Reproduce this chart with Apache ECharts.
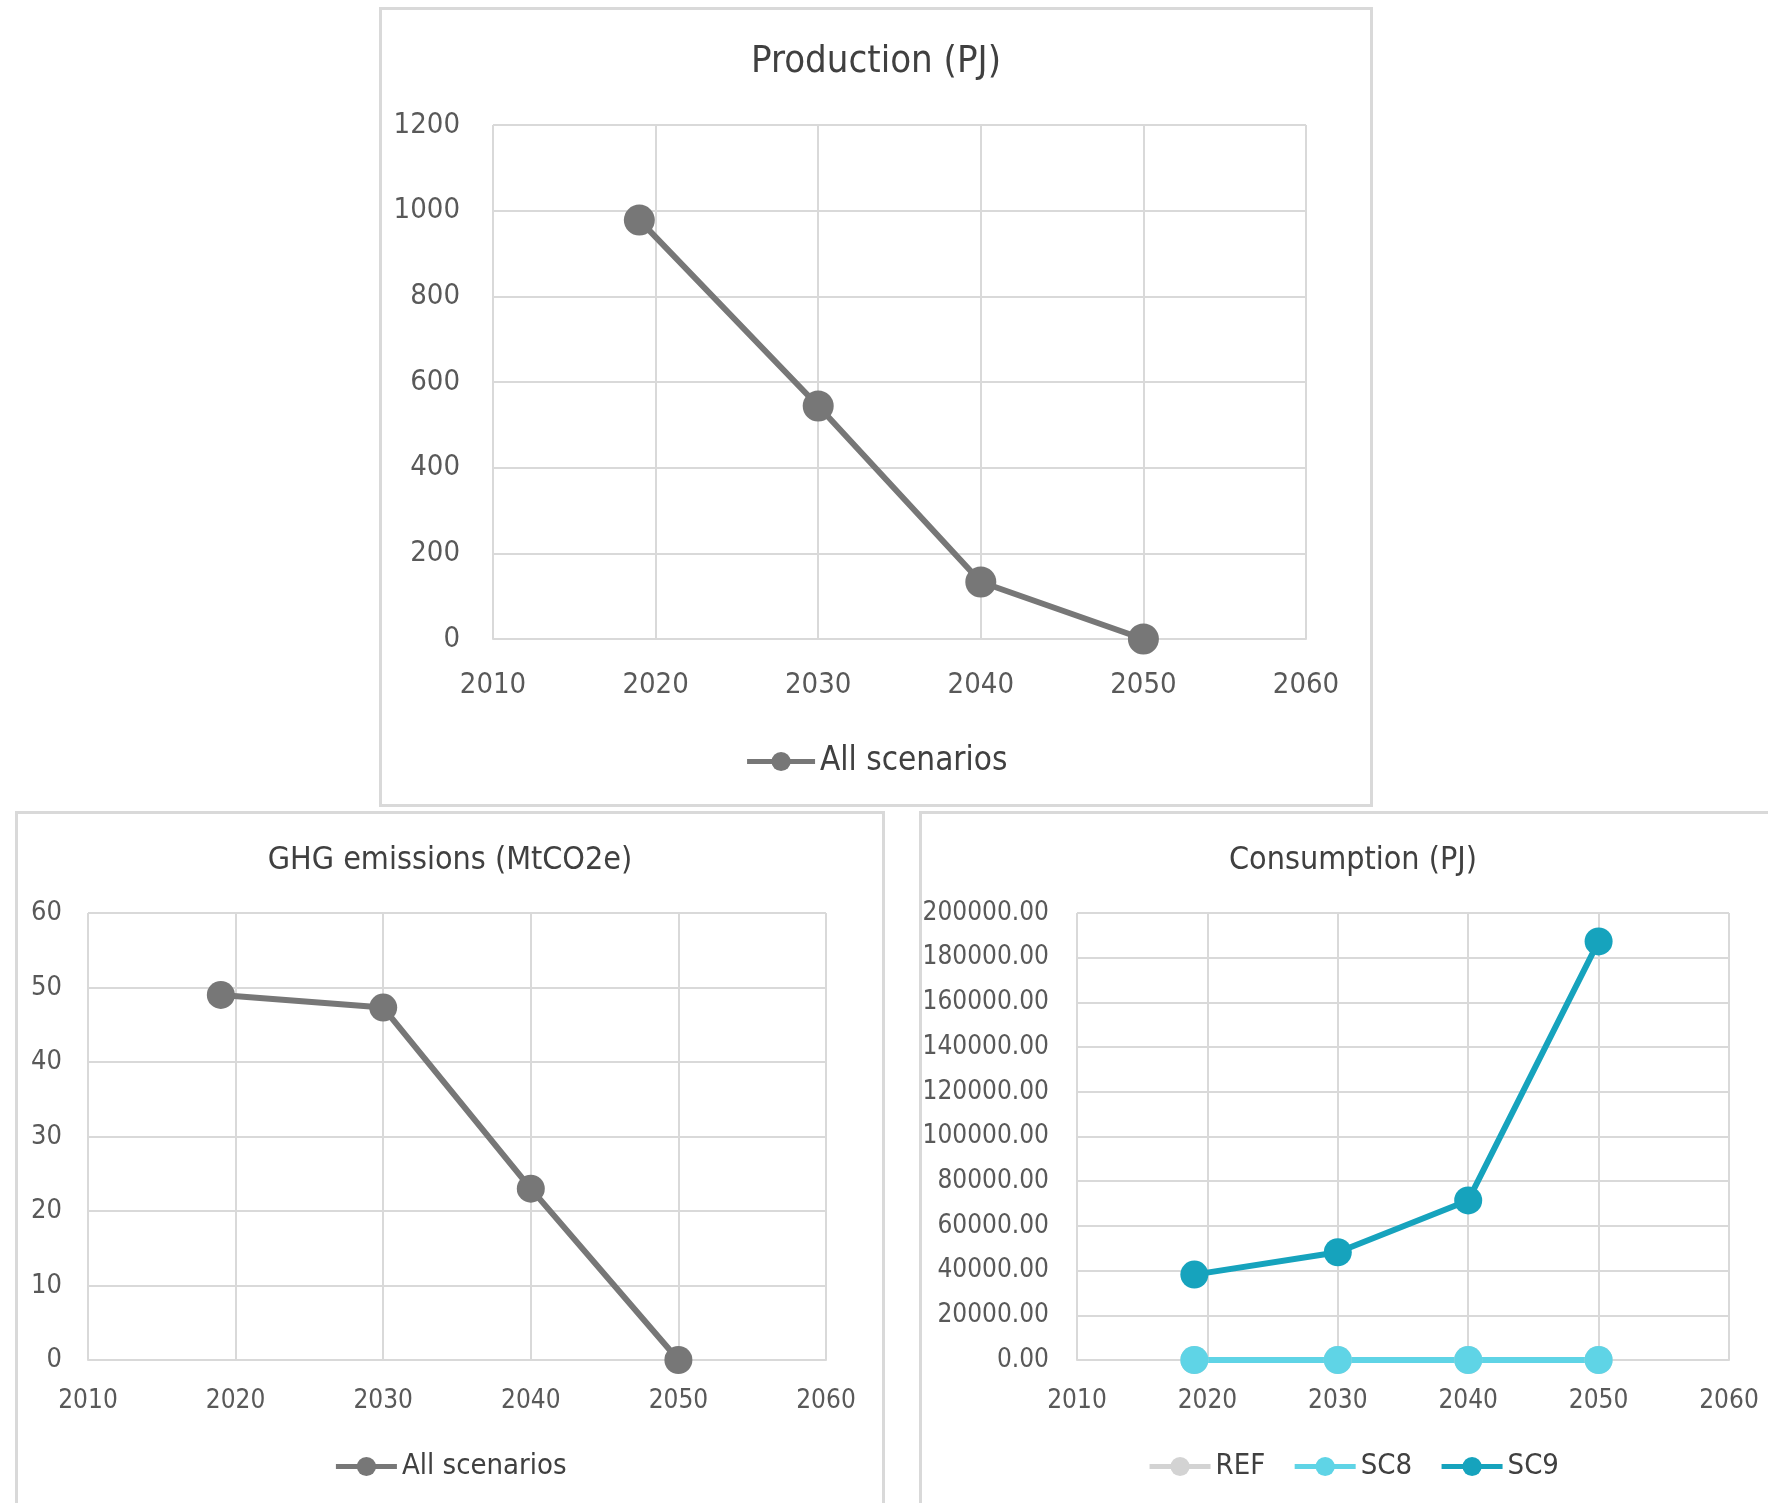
<!DOCTYPE html>
<html>
<head>
<meta charset="utf-8">
<script src="https://cdn.jsdelivr.net/npm/echarts@6/dist/echarts.min.js"></script>
<style>
  html, body { margin: 0; padding: 0; width: 1768px; height: 1503px; overflow: hidden; background: #ffffff; }
  .chart { position: absolute; }
  .frame { position: absolute; box-sizing: border-box; border: 3px solid #d9d9d9; pointer-events: none; }
</style>
</head>
<body>
<div id="prod" class="chart" style="left:379px; top:7px; width:994px; height:800px;"></div>
<div class="frame" style="left:379px; top:7px; width:994px; height:800px;"></div>
<div id="ghg" class="chart" style="left:15px; top:811px; width:870px; height:692px;"></div>
<div class="frame" style="left:15px; top:811px; width:870px; height:710px;"></div>
<div id="cons" class="chart" style="left:919px; top:811px; width:868px; height:692px;"></div>
<div class="frame" style="left:919px; top:811px; width:880px; height:710px;"></div>
<script>
// Scenario years on the horizontal axis
const years = [2019, 2030, 2040, 2050];

// Production (PJ), same for all scenarios
const production = [978, 544, 133, 0];

// GHG emissions (MtCO2e), same for all scenarios
const ghgEmissions = [49.0, 47.3, 23.0, 0];

// Consumption (PJ) per scenario
const consumptionREF = [0, 0, 0, 0];
const consumptionSC8 = [0, 0, 0, 0];
const consumptionSC9 = [38200, 48200, 71400, 187300];

// Axis ranges
const yearAxis = { min: 2010, max: 2060, interval: 10 };
const productionAxis = { min: 0, max: 1200, interval: 200 };
const ghgAxis = { min: 0, max: 60, interval: 10 };
const consumptionAxis = { min: 0, max: 200000, interval: 20000 };

const FONT = "'Liberation Sans Narrow', 'DejaVu Sans Condensed', 'Liberation Sans', sans-serif";
const GRID_COLOR = '#d9d9d9';
const LABEL_COLOR = '#595959';
const TITLE_COLOR = '#404040';
const GRAY = '#777777';

const pairs = vals => years.map((y, i) => [y, vals[i]]);
const plain = v => String(v);

function gridAt(left, top, width, height) {
  return { left: left, top: top, width: width, height: height, containLabel: false, outerBoundsMode: 'none' };
}

function xAxisOf(fontSize, margin) {
  return {
    type: 'value',
    min: yearAxis.min, max: yearAxis.max, interval: yearAxis.interval,
    axisLine: { show: true, lineStyle: { color: GRID_COLOR, width: 2 } },
    axisTick: { show: false },
    splitLine: { show: true, lineStyle: { color: GRID_COLOR, width: 2 } },
    axisLabel: { color: LABEL_COLOR, fontFamily: FONT, fontSize: fontSize, margin: margin, formatter: plain }
  };
}

function yAxisOf(range, fontSize, margin, formatter) {
  return {
    type: 'value',
    min: range.min, max: range.max, interval: range.interval,
    axisLine: { show: false },
    axisTick: { show: false },
    splitLine: { show: true, lineStyle: { color: GRID_COLOR, width: 2 } },
    axisLabel: {
      color: LABEL_COLOR, fontFamily: FONT, fontSize: fontSize, margin: margin,
      padding: [5, 0, 0, 0], formatter: formatter || plain
    }
  };
}

function legendOf(top, names, fontSize, itemWidth) {
  return {
    left: 'center', top: top,
    itemWidth: itemWidth, itemHeight: 24, itemGap: 27,
    lineStyle: { width: 5 },
    textStyle: { color: TITLE_COLOR, fontFamily: FONT, fontSize: fontSize },
    data: names
  };
}

function lineSeries(name, vals, color, symbolSize) {
  return {
    name: name,
    type: 'line',
    data: pairs(vals),
    symbol: 'circle',
    symbolSize: symbolSize,
    showSymbol: true,
    lineStyle: { color: color, width: 6 },
    itemStyle: { color: color },
    emphasis: { disabled: true },
    animation: false,
    z: 3
  };
}

// Production
echarts.init(document.getElementById('prod')).setOption({
  animation: false,
  title: {
    text: 'Production (PJ)',
    left: 'center', top: 31,
    textStyle: { color: TITLE_COLOR, fontFamily: FONT, fontSize: 38, fontWeight: 'normal' }
  },
  grid: gridAt(114, 118, 813, 514),
  xAxis: xAxisOf(29, 32),
  yAxis: yAxisOf(productionAxis, 29, 33),
  legend: legendOf(733, ['All scenarios'], 33, 68),
  series: [lineSeries('All scenarios', production, GRAY, 31)]
});

// GHG emissions
echarts.init(document.getElementById('ghg')).setOption({
  animation: false,
  title: {
    text: 'GHG emissions (MtCO2e)',
    left: 'center', top: 29,
    textStyle: { color: TITLE_COLOR, fontFamily: FONT, fontSize: 32, fontWeight: 'normal' }
  },
  grid: gridAt(73, 102, 738, 447),
  xAxis: xAxisOf(26, 28),
  yAxis: yAxisOf(ghgAxis, 27, 26),
  legend: legendOf(636, ['All scenarios'], 29, 61),
  series: [lineSeries('All scenarios', ghgEmissions, GRAY, 28)]
});

// Consumption
echarts.init(document.getElementById('cons')).setOption({
  animation: false,
  title: {
    text: 'Consumption (PJ)',
    left: 'center', top: 29,
    textStyle: { color: TITLE_COLOR, fontFamily: FONT, fontSize: 32, fontWeight: 'normal' }
  },
  grid: gridAt(158, 102, 652, 447),
  xAxis: xAxisOf(26, 28),
  yAxis: yAxisOf(consumptionAxis, 26, 28, v => v.toFixed(2)),
  legend: legendOf(636, ['REF', 'SC8', 'SC9'], 29, 61),
  series: [
    lineSeries('REF', consumptionREF, '#d3d3d3', 28),
    lineSeries('SC8', consumptionSC8, '#5fd4e6', 28),
    lineSeries('SC9', consumptionSC9, '#16a3bd', 28)
  ]
});
</script>
</body>
</html>
